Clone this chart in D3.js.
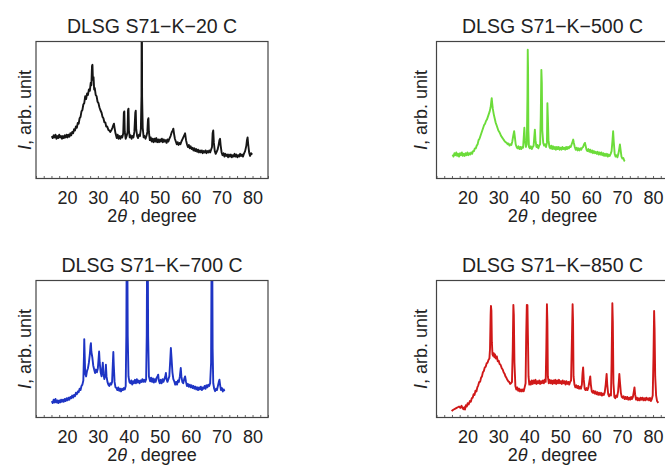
<!DOCTYPE html>
<html>
<head>
<meta charset="utf-8">
<script src="https://cdn.jsdelivr.net/npm/d3@7"></script>
<style>
  body { margin: 0; background: #fff; }
  svg { display: block; font-family: "Liberation Sans", Arial, sans-serif; }
</style>
</head>
<body>
<svg id="chart" width="665" height="467"></svg>
<script>
// 2theta (degree), intensity (arb. unit, 0..100 of the frame height)
const xrd20 = [[15.1,31],[15.4,29.5],[15.7,31.5],[16.0,30],[16.3,32],[16.6,29],[16.9,31],[17.2,29.5],[17.5,32],[17.8,30],[18.1,31],[18.4,29],[18.7,31],[19.0,29.5],[19.3,31.5],[19.6,30],[19.9,32],[20.2,30],[20.5,32],[20.8,30.5],[21.1,33],[21.4,31.5],[21.7,34],[22.0,33],[22.3,36],[22.6,35],[22.9,38],[23.2,37],[23.5,40.5],[23.8,40],[24.1,44],[24.4,45],[24.7,49],[25.0,50],[25.3,54],[25.6,55],[25.9,60],[26.2,58],[26.5,62],[26.8,61],[27.1,65],[27.4,64],[27.7,70],[27.9,68],[28.1,82],[28.25,83],[28.4,72],[28.6,74],[28.8,65],[29.0,66],[29.3,61],[29.6,60],[29.9,56],[30.2,55],[30.5,52],[30.8,50],[31.2,48],[31.5,45],[31.8,44],[32.1,41],[32.4,41],[32.7,38],[33.0,38],[33.4,35.5],[33.7,35],[34.0,34],[34.3,35],[34.7,37],[35.0,39],[35.2,40],[35.4,37],[35.7,33],[36.1,29.5],[36.4,32],[36.7,29],[37.0,31],[37.3,29],[37.6,31],[37.9,30],[38.2,33],[38.4,48],[38.55,49],[38.7,34],[39.0,29],[39.3,31],[39.6,34],[39.75,50],[39.9,51],[40.05,35],[40.3,30],[40.6,31.5],[40.9,29],[41.2,31],[41.5,30],[41.8,34],[42.1,48],[42.25,49.5],[42.4,36],[42.7,31],[43.0,29.5],[43.3,32],[43.6,31],[43.9,36],[44.1,60],[44.15,110],[44.25,110],[44.3,60],[44.5,37],[44.8,30],[45.1,31],[45.4,29],[45.7,31],[46.0,34],[46.2,43],[46.35,44],[46.5,34],[46.8,28],[47.1,30],[47.4,27],[47.7,29],[48.0,26.5],[48.3,29],[48.6,27],[48.9,29.5],[49.2,26.5],[49.5,28.5],[49.8,26.5],[50.1,28.5],[50.4,27],[50.7,29],[51.0,26.5],[51.3,28.5],[51.6,27],[51.9,28],[52.2,26],[52.5,28.5],[52.8,27],[53.1,29],[53.5,31],[53.9,34],[54.2,35],[54.4,36.4],[54.6,33],[54.9,29],[55.2,27],[55.5,25],[55.8,26.5],[56.1,24.5],[56.4,26],[56.7,25],[57.0,27],[57.4,29],[57.8,31],[58.2,33],[58.5,28],[58.8,25],[59.1,23],[59.4,24.5],[59.7,22],[60.0,23.5],[60.3,21.5],[60.6,22.5],[60.9,20.5],[61.2,22],[61.5,20],[61.8,21.5],[62.1,19.5],[62.4,21],[62.7,19],[63.0,20.5],[63.3,19],[63.6,20.5],[63.9,18.5],[64.2,20],[64.5,19],[64.8,20.5],[65.1,18.5],[65.4,20],[65.7,19],[66.0,20.5],[66.3,19],[66.6,21],[66.9,23],[67.1,33],[67.3,35],[67.5,26],[67.8,20],[68.1,18],[68.4,19.5],[68.7,21],[69.0,24],[69.3,28],[69.5,29],[69.7,24],[70.0,19],[70.3,17],[70.6,18.5],[70.9,16],[71.2,18],[71.5,16.5],[71.8,17.5],[72.1,15.5],[72.4,17.5],[72.7,16],[73.0,17.5],[73.3,15.5],[73.6,17],[73.9,16],[74.2,18],[74.5,16],[74.8,17.5],[75.1,15.5],[75.4,17],[75.7,16],[76.0,18],[76.3,16.5],[76.6,17.5],[76.9,16],[77.2,18],[77.6,20],[78.0,24],[78.2,28],[78.4,30],[78.6,25],[78.9,19],[79.2,16.5],[79.5,18.5],[79.9,17.5]];

const xrd500 = [[15.2,17.5],[15.5,16],[15.8,18.5],[16.1,17],[16.4,19],[16.7,16.5],[17.0,18],[17.3,16],[17.6,18.5],[17.9,17],[18.2,19],[18.5,16.5],[18.8,18],[19.1,16.5],[19.4,18.5],[19.7,17],[20.0,19],[20.3,17],[20.6,18.5],[20.9,17.5],[21.2,19],[21.5,18],[21.8,20],[22.1,20],[22.4,22],[22.7,22],[23.0,24],[23.3,25],[23.6,28],[23.9,29],[24.2,31],[24.5,33],[24.8,35],[25.1,37],[25.4,39],[25.7,40],[26.0,42],[26.3,43],[26.6,45],[26.9,47],[27.2,49],[27.5,52],[27.7,56],[27.85,58.7],[28.0,55],[28.2,51],[28.5,47],[28.8,44],[29.1,41],[29.4,39],[29.7,37],[30.0,35],[30.3,34],[30.6,32.5],[30.9,31],[31.2,30],[31.5,29],[31.8,28],[32.1,27],[32.4,26.5],[32.7,26],[33.0,25],[33.3,25.5],[33.6,24],[33.9,25],[34.2,24.5],[34.5,27],[34.8,31],[35.1,34.5],[35.3,31],[35.6,25],[35.9,23],[36.2,22],[36.5,23.5],[36.8,21.5],[37.1,23],[37.4,21.5],[37.7,23],[38.0,22.5],[38.2,30],[38.4,37],[38.6,28],[38.9,23],[39.2,25],[39.4,60],[39.5,94],[39.6,80],[39.7,35],[39.9,23],[40.2,22],[40.5,23.5],[40.8,21.5],[41.1,23],[41.4,24],[41.6,30],[41.8,35.7],[42.0,28],[42.3,23],[42.6,24.5],[42.9,22],[43.2,24],[43.5,25],[43.7,45],[43.9,79.3],[44.05,70],[44.2,35],[44.5,26],[44.8,24],[45.1,25],[45.4,23],[45.7,26],[45.85,55],[46.0,45],[46.2,28],[46.5,23],[46.8,22],[47.1,24],[47.4,21.5],[47.7,23.5],[48.0,21.5],[48.3,23],[48.6,21],[48.9,23],[49.2,21.5],[49.5,23],[49.8,21],[50.1,22.5],[50.4,21],[50.7,23],[51.0,21.5],[51.3,22.5],[51.6,21],[51.9,23],[52.2,21.5],[52.5,23],[52.8,22],[53.1,23.5],[53.4,23],[53.7,25],[54.0,27],[54.2,28.4],[54.4,26],[54.7,23],[55.0,21],[55.3,22.5],[55.6,20.5],[55.9,22],[56.2,20.5],[56.5,22],[56.8,21],[57.1,22.5],[57.4,23],[57.7,25],[58.0,26],[58.2,24],[58.5,21],[58.8,20],[59.1,21.5],[59.4,19.5],[59.7,21],[60.0,19],[60.3,20.5],[60.6,18.5],[60.9,20],[61.2,18.5],[61.5,19.5],[61.8,18],[62.1,19.5],[62.4,17.5],[62.7,19],[63.0,17.5],[63.3,19],[63.6,17],[63.9,18.5],[64.2,16.5],[64.5,18],[64.8,16.5],[65.1,18],[65.4,16],[65.7,17.5],[66.0,16.5],[66.3,18],[66.6,20],[66.9,28],[67.1,34.5],[67.3,27],[67.6,18],[67.9,16],[68.2,17],[68.5,15.5],[68.8,18],[69.1,22],[69.3,24.8],[69.5,21],[69.8,16],[70.1,14.5],[70.4,15],[70.7,13],[70.9,12.6]];

const xrd700 = [[15.1,11.9],[15.4,10.5],[15.7,13],[16.0,11],[16.3,13.5],[16.6,11],[16.9,12.5],[17.2,10.5],[17.5,12.5],[17.8,11],[18.1,13],[18.4,11.5],[18.7,13],[19.0,11.5],[19.3,13.5],[19.6,12],[19.9,14],[20.2,12.5],[20.5,14.5],[20.8,13],[21.1,15],[21.4,14],[21.7,16],[22.0,14.5],[22.3,16.5],[22.6,15.5],[22.9,18],[23.2,17],[23.5,19],[23.8,18.5],[24.1,21],[24.4,20],[24.7,23],[25.0,24],[25.3,27],[25.5,45],[25.6,57.2],[25.75,45],[25.9,32],[26.2,30],[26.5,34],[26.8,36],[27.1,40],[27.4,46],[27.6,52],[27.75,54.3],[27.9,48],[28.2,44],[28.5,38],[28.8,35],[29.1,32.5],[29.4,35],[29.7,33],[30.0,36],[30.2,42],[30.4,48.2],[30.6,40],[30.9,33],[31.2,30],[31.4,35],[31.6,40],[31.8,32],[32.1,28],[32.4,31],[32.6,38.5],[32.8,30],[33.1,26],[33.4,24],[33.7,23],[34.0,25],[34.3,24],[34.6,26],[34.85,40],[35.0,47.8],[35.15,38],[35.4,26],[35.7,22],[36.0,21.5],[36.3,20],[36.6,22],[36.9,19.5],[37.2,21],[37.5,19],[37.8,21],[38.1,20],[38.4,21.5],[38.7,20.5],[39.0,23],[39.2,60],[39.35,140],[39.5,140],[39.65,60],[39.9,30],[40.2,26],[40.5,25],[40.8,27],[41.1,24],[41.4,26.5],[41.7,25],[42.0,27.5],[42.3,25],[42.6,28],[42.9,25.5],[43.2,27],[43.5,25],[43.8,27],[44.1,26],[44.4,28],[44.7,26],[45.0,27.5],[45.3,26],[45.6,28],[45.8,60],[45.95,140],[46.1,140],[46.25,60],[46.5,30],[46.9,26.4],[47.2,29],[47.5,26],[47.8,28.5],[48.1,25.5],[48.4,28],[48.7,26],[49.0,29],[49.3,30],[49.5,31.3],[49.7,27],[50.0,25],[50.3,27.5],[50.6,25],[50.9,28],[51.2,26],[51.5,28],[51.8,30],[52.0,32.5],[52.2,28],[52.5,26],[52.8,28],[53.1,30],[53.4,42],[53.6,50.7],[53.8,44],[54.1,33],[54.4,28],[54.7,26.4],[55.0,24],[55.3,26],[55.6,24],[55.9,27],[56.2,26],[56.5,30],[56.8,36.1],[57.0,30],[57.3,26],[57.6,25],[57.9,28],[58.2,30],[58.5,26],[58.8,23],[59.1,24.5],[59.4,22.5],[59.7,24],[60.0,22],[60.3,23.5],[60.6,21.5],[60.9,23],[61.2,21],[61.5,22.5],[61.8,20.5],[62.1,22],[62.4,20],[62.7,22],[63.0,20.5],[63.3,22.5],[63.6,20],[63.9,22],[64.2,21],[64.5,23],[64.8,21],[65.1,23.5],[65.4,22],[65.7,24],[66.0,23],[66.3,25],[66.6,40],[66.8,140],[66.95,140],[67.1,50],[67.3,25],[67.6,21],[67.9,19.2],[68.2,21],[68.5,20],[68.8,23],[69.1,26],[69.3,27.6],[69.5,24],[69.8,20],[70.1,21.5],[70.4,19],[70.7,20.5],[70.9,19.2]];

const xrd850 = [[14.9,4.6],[15.3,5.5],[15.7,6],[16.1,6.5],[16.5,7],[16.9,7.5],[17.3,8],[17.7,7],[18.1,8.5],[18.4,7],[18.7,6],[19.0,7.5],[19.2,5.8],[19.5,9],[19.8,8],[20.1,10.5],[20.4,9.5],[20.8,12],[21.1,11.5],[21.4,14],[21.7,14.5],[22.0,17],[22.3,16.5],[22.6,19.5],[22.9,19],[23.2,22],[23.5,23.5],[23.8,26],[24.1,26],[24.4,29],[24.7,30],[25.0,33],[25.3,34],[25.6,36.5],[25.9,37],[26.2,39.5],[26.5,40],[26.8,42],[27.1,43],[27.3,50],[27.5,75],[27.6,81.5],[27.75,78],[27.9,55],[28.1,46],[28.3,45],[28.5,47],[28.7,44],[28.9,46],[29.2,43],[29.5,44.6],[29.8,41],[30.1,41.5],[30.4,39],[30.7,38.5],[31.1,36],[31.4,35],[31.7,33],[32.0,32],[32.3,30],[32.6,29],[32.9,27.5],[33.2,26.4],[33.5,26],[33.8,24.5],[34.1,25],[34.4,26],[34.65,50],[34.85,82.2],[35.0,75],[35.2,40],[35.5,23],[35.8,20.4],[36.1,22],[36.4,19.5],[36.7,21],[37.0,19],[37.3,20.5],[37.6,19],[37.9,20.5],[38.2,19.2],[38.5,22],[38.8,25],[39.0,60],[39.2,82.2],[39.4,82],[39.55,60],[39.75,30],[40.0,24],[40.2,26.4],[40.5,24],[40.8,27],[41.1,24.5],[41.4,27],[41.7,25],[42.0,27.5],[42.3,24.5],[42.6,26.5],[42.9,25],[43.2,27],[43.5,24.5],[43.8,26.5],[44.1,25],[44.4,27],[44.7,25],[45.0,27.5],[45.3,26],[45.5,50],[45.7,82.7],[45.85,70],[46.0,30],[46.3,25],[46.6,27.5],[46.9,25],[47.2,27],[47.5,24.5],[47.8,27],[48.1,25],[48.4,27.5],[48.7,24.5],[49.0,27],[49.3,25],[49.6,27.5],[49.9,25],[50.2,26.5],[50.5,24.5],[50.8,27],[51.1,25],[51.4,26.5],[51.7,24],[52.0,26.5],[52.3,24.5],[52.6,26],[52.9,24],[53.2,26],[53.5,27],[53.8,60],[54.0,82.7],[54.15,70],[54.3,30],[54.6,24],[54.9,22],[55.2,23.5],[55.5,21.5],[55.8,23],[56.1,21],[56.4,22.5],[56.7,21],[57.0,24],[57.2,32],[57.4,36.6],[57.6,28],[57.9,21],[58.2,20],[58.5,21.5],[58.8,20],[59.1,22],[59.4,26],[59.7,30],[59.9,24],[60.2,19],[60.5,18],[60.8,19.5],[61.1,17.5],[61.4,19],[61.7,17],[62.0,18.5],[62.3,16.5],[62.6,18],[62.9,16.5],[63.2,18],[63.5,16],[63.8,17.5],[64.1,16.5],[64.4,18.5],[64.7,24],[65.0,31.8],[65.2,24],[65.5,17],[65.8,15.5],[66.1,17],[66.4,16],[66.6,40],[66.85,83.4],[67.0,70],[67.2,25],[67.5,15],[67.8,14],[68.1,16],[68.4,15],[68.7,19],[69.0,28],[69.1,31.8],[69.3,26],[69.6,18],[69.9,15],[70.2,14.3],[70.5,15.5],[70.8,13.5],[71.1,15],[71.4,13.5],[71.7,15],[72.0,13],[72.3,14.5],[72.6,13],[72.9,15],[73.2,13.5],[73.5,15],[73.8,19],[74.0,22],[74.2,17],[74.5,13],[74.8,14.5],[75.1,12.5],[75.4,14],[75.7,12.5],[76.0,14.5],[76.3,13],[76.6,14.5],[76.9,12.5],[77.2,14],[77.5,12.5],[77.8,14.5],[78.1,13],[78.4,14],[78.7,12.5],[79.0,14.3],[79.3,12],[79.6,13.5],[79.9,16],[80.15,45],[80.35,77.8],[80.5,65],[80.7,30],[81.0,16],[81.3,12],[81.7,10.7]];

const titles = ["DLSG S71\u2212K\u221220 C", "DLSG S71\u2212K\u2212500 C", "DLSG S71\u2212K\u2212700 C", "DLSG S71\u2212K\u2212850 C"];
const series = [xrd20, xrd500, xrd700, xrd850];
const colors = ["#161616", "#6cdc3a", "#1e34c4", "#d01818"];
const tickLabels = [20, 30, 40, 50, 60, 70, 80];
const minorTicks = d3.range(10, 85.01, 2.5);

const svg = d3.select("#chart");
const pw = 232, ph = 137;
const panelPos = [
    {left: 36, top: 41.5, ylab: 31},
    {left: 436.5, top: 41.5, ylab: 427},
    {left: 36, top: 280.5, ylab: 31},
    {left: 436.5, top: 280.5, ylab: 427}
];

const x = d3.scaleLinear().domain([10, 85]).range([0, pw]);
const y = d3.scaleLinear().domain([0, 100]).range([ph, 0]);

const line = d3.line()
    .x(d => x(d[0]))
    .y(d => y(d[1]));

series.forEach((data, i) => {
    const p = panelPos[i];
    const g = svg.append("g").attr("transform", `translate(${p.left},${p.top})`);

    g.append("clipPath").attr("id", "clip" + i)
        .append("rect").attr("width", pw).attr("height", ph);

    g.append("path")
        .datum(data)
        .attr("clip-path", `url(#clip${i})`)
        .attr("fill", "none")
        .attr("stroke", colors[i])
        .attr("stroke-width", 1.9)
        .attr("stroke-linejoin", "round")
        .attr("d", line);

    // minor ticks along the bottom, pointing inside
    g.append("g")
        .attr("transform", `translate(0,${ph})`)
        .call(d3.axisBottom(x).tickValues(minorTicks).tickSize(-2.5).tickFormat(""))
        .call(a => a.select(".domain").remove())
        .selectAll("line").attr("stroke", "#666");

    g.append("rect")
        .attr("width", pw).attr("height", ph)
        .attr("fill", "none")
        .attr("stroke", "#444")
        .attr("stroke-width", 1.2);

    g.append("g")
        .attr("transform", `translate(0,${ph})`)
        .call(d3.axisBottom(x).tickValues(tickLabels).tickSize(0).tickPadding(12.5))
        .call(a => a.select(".domain").remove())
        .selectAll("text")
        .attr("font-size", 18)
        .attr("font-family", "Liberation Sans, Arial, sans-serif")
        .attr("fill", "#222");

    g.append("text")
        .attr("x", pw / 2).attr("y", -8.5)
        .attr("text-anchor", "middle")
        .attr("font-size", 19.5)
        .attr("fill", "#222")
        .text(titles[i]);

    const xl = g.append("text")
        .attr("x", pw / 2).attr("y", ph + 43.5)
        .attr("text-anchor", "middle")
        .attr("font-size", 18)
        .attr("fill", "#222");
    xl.append("tspan").text("2");
    xl.append("tspan").attr("font-style", "italic").text("\u03b8");
    xl.append("tspan").text("\u2009, degree");

    const yl = svg.append("text")
        .attr("transform", `translate(${p.ylab},${p.top + ph / 2}) rotate(-90)`)
        .attr("text-anchor", "middle")
        .attr("font-size", 18)
        .attr("fill", "#222");
    yl.append("tspan").attr("font-style", "italic").text("I");
    yl.append("tspan").text(", arb. unit");
});
</script>
</body>
</html>
